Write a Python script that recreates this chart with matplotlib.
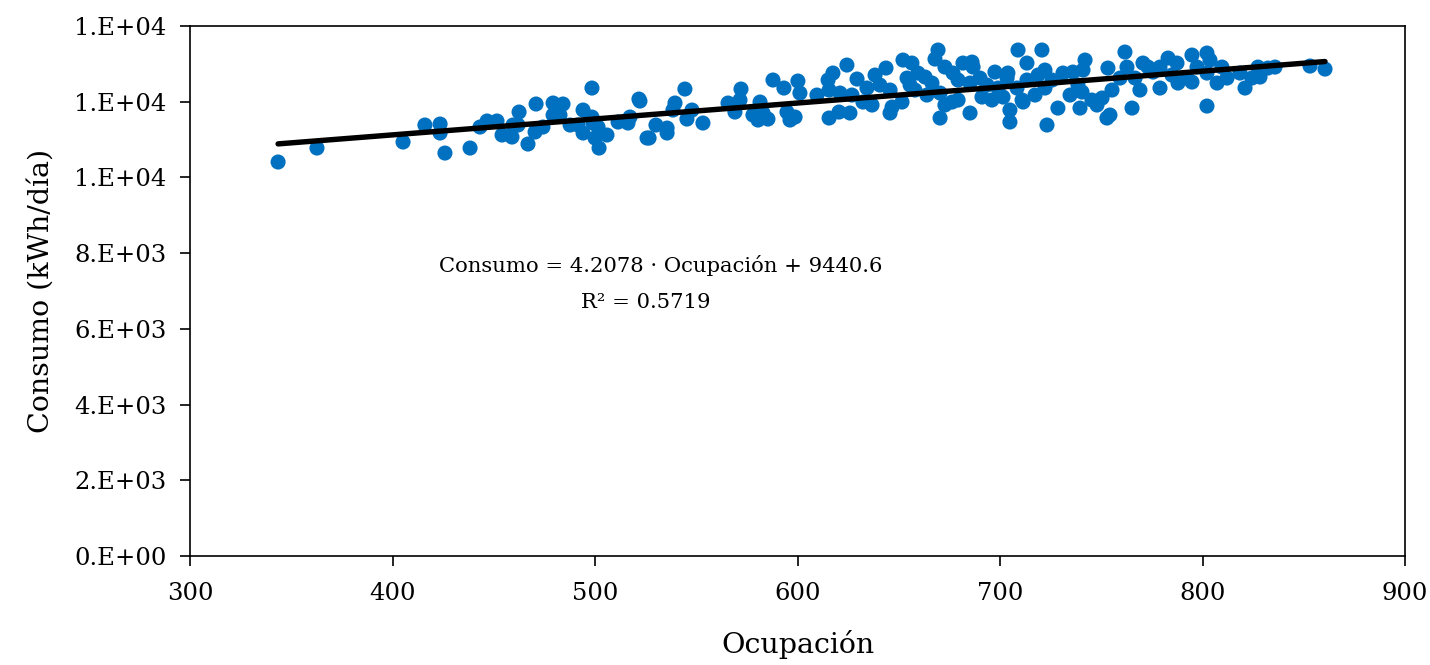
import matplotlib
matplotlib.use("Agg")
import matplotlib.pyplot as plt
import numpy as np

# Data
ocupacion = [
    343.5, 362.7, 405.2, 416.0, 423.5, 423.5, 425.9, 438.3, 443.2, 446.7,
    451.6, 454.1, 459.0, 459.5, 462.5, 462.0, 466.9, 470.9, 470.4, 474.3,
    479.3, 479.3, 484.2, 482.7, 487.7, 491.6, 494.1, 494.1, 498.5, 498.5,
    499.0, 501.5, 500.0, 502.0, 505.9, 511.4, 517.3, 516.3, 521.7, 525.7,
    522.2, 526.7, 530.1, 535.6, 535.6, 538.5, 539.5, 544.4, 545.4, 547.9,
    553.3, 565.7, 569.1, 571.6, 572.1, 578.0, 580.5, 581.5, 583.0, 585.4,
    587.9, 593.3, 594.8, 596.3, 598.8, 600.2, 601.2, 609.6, 615.1, 617.5,
    615.6, 615.6, 620.5, 621.0, 624.4, 625.9, 629.4, 626.9, 632.3, 634.3,
    636.8, 638.3, 640.7, 643.7, 645.7, 645.7, 646.7, 651.6, 652.1, 654.1,
    656.5, 655.6, 658.0, 659.5, 663.0, 663.9, 666.4, 667.9, 669.4, 670.4,
    670.4, 672.8, 672.8, 676.3, 676.8, 679.3, 679.3, 681.7, 685.2, 686.2,
    685.2, 686.7, 690.1, 691.1, 693.6, 696.0, 697.5, 699.0, 701.5, 703.5,
    703.9, 704.9, 704.9, 708.9, 708.4, 710.9, 713.3, 713.3, 711.4, 720.7,
    718.8, 722.2, 717.3, 722.2, 725.7, 723.2, 728.6, 731.1, 734.6, 736.0,
    738.5, 739.5, 742.0, 741.0, 740.5, 745.4, 747.9, 750.4, 752.8, 754.3,
    753.3, 755.3, 759.3, 761.7, 762.7, 765.2, 766.7, 769.1, 770.6, 773.1,
    775.6, 779.0, 779.0, 783.0, 784.9, 787.4, 787.9, 792.3, 794.8, 794.8,
    797.3, 802.2, 803.7, 802.2, 807.2, 809.6, 812.1, 818.5, 821.0, 824.4,
    827.4, 828.4, 832.3, 835.8, 802.2, 853.1, 860.5,
]
consumo = [
    10407, 10776, 10935, 11384, 11410, 11173, 10644, 10776, 11331, 11490,
    11490, 11120, 11067, 11384, 11727, 11384, 10882, 11939, 11199, 11331,
    11965, 11648, 11939, 11648, 11384, 11384, 11780, 11173, 12361, 11595,
    11437, 11331, 11041, 10776, 11120, 11463, 11595, 11437, 12070, 11041,
    12017, 11041, 11384, 11304, 11173, 11780, 11965, 12335, 11542, 11780,
    11437, 11965, 11727, 12044, 12335, 11648, 11516, 11991, 11701, 11542,
    12573, 12361, 11727, 11516, 11595, 12546, 12229, 12176, 12573, 12757,
    12308, 11569, 11727, 12229, 12968, 11701, 12599, 12176, 11991, 12361,
    11912, 12704, 12440, 12889, 12308, 11701, 11859, 11991, 13100, 12625,
    13021, 12440, 12308, 12757, 12652, 12176, 12493, 13126, 13365, 12229,
    11569, 12915, 11912, 11991, 12757, 12044, 12573, 13021, 11701, 13047,
    12493, 12915, 12625, 12123, 12440, 12044, 12783, 12361, 12123, 12625,
    12757, 11780, 11463, 13365, 12361, 12044, 13021, 12573, 11991, 13365,
    12704, 12836, 12176, 12361, 12573, 11384, 11832, 12757, 12176, 12783,
    12440, 11832, 13100, 12836, 12255, 12044, 11912, 12097, 11569, 11648,
    12889, 12308, 12625, 13312, 12915, 11832, 12625, 12308, 13021, 12915,
    12783, 12915, 12361, 13153, 12704, 13021, 12493, 12625, 13232, 12519,
    12915, 13285, 13100, 12757, 12493, 12915, 12625, 12757, 12361, 12625,
    12915, 12652, 12889, 12915, 11885, 12942, 12862,
]

slope = 4.2078
intercept = 9440.6
r2 = 0.5719

x_ticks = [300, 400, 500, 600, 700, 800, 900]
y_ticks = [0, 2000, 4000, 6000, 8000, 10000, 12000, 14000]
y_tick_labels = ["0.E+00", "2.E+03", "4.E+03", "6.E+03", "8.E+03",
                 "1.E+04", "1.E+04", "1.E+04"]

plt.rcParams['font.family'] = ['DejaVu Serif']

fig = plt.figure(figsize=(14.3, 6.65), dpi=100)
ax = fig.add_axes([190/1430, 1 - 556/665, (1405-190)/1430, (556-26)/665])

ax.scatter(ocupacion, consumo, s=118, color='#0070C0', edgecolors='none', zorder=2)

x_line = np.array([min(ocupacion), max(ocupacion)])
ax.plot(x_line, slope * x_line + intercept, color='black', lw=3.9,
        solid_capstyle='round', zorder=3)

ax.set_xlim(300, 900)
ax.set_ylim(0, 14000)
ax.set_xticks(x_ticks)
ax.set_xticklabels([str(v) for v in x_ticks])
ax.set_yticks(y_ticks)
ax.set_yticklabels(y_tick_labels)

ax.tick_params(axis='both', direction='out', length=7, width=1.2,
               labelsize=17.5, colors='black')
ax.tick_params(axis='x', pad=12)
ax.tick_params(axis='y', pad=10)
for sp in ax.spines.values():
    sp.set_linewidth(1.2)
    sp.set_color('black')

ax.set_xlabel("Ocupación", fontsize=20.5, labelpad=18)
ax.set_ylabel("Consumo (kWh/día)", fontsize=20.5, labelpad=14)

ax.text(532.6, 7686, f"Consumo = {slope} · Ocupación + {intercept}",
        fontsize=15.2, ha='center', va='center')
ax.text(525.2, 6709, f"R² = {r2:.4f}", fontsize=15.2, ha='center', va='center')

fig.savefig("out.png", dpi=100, facecolor='white')
